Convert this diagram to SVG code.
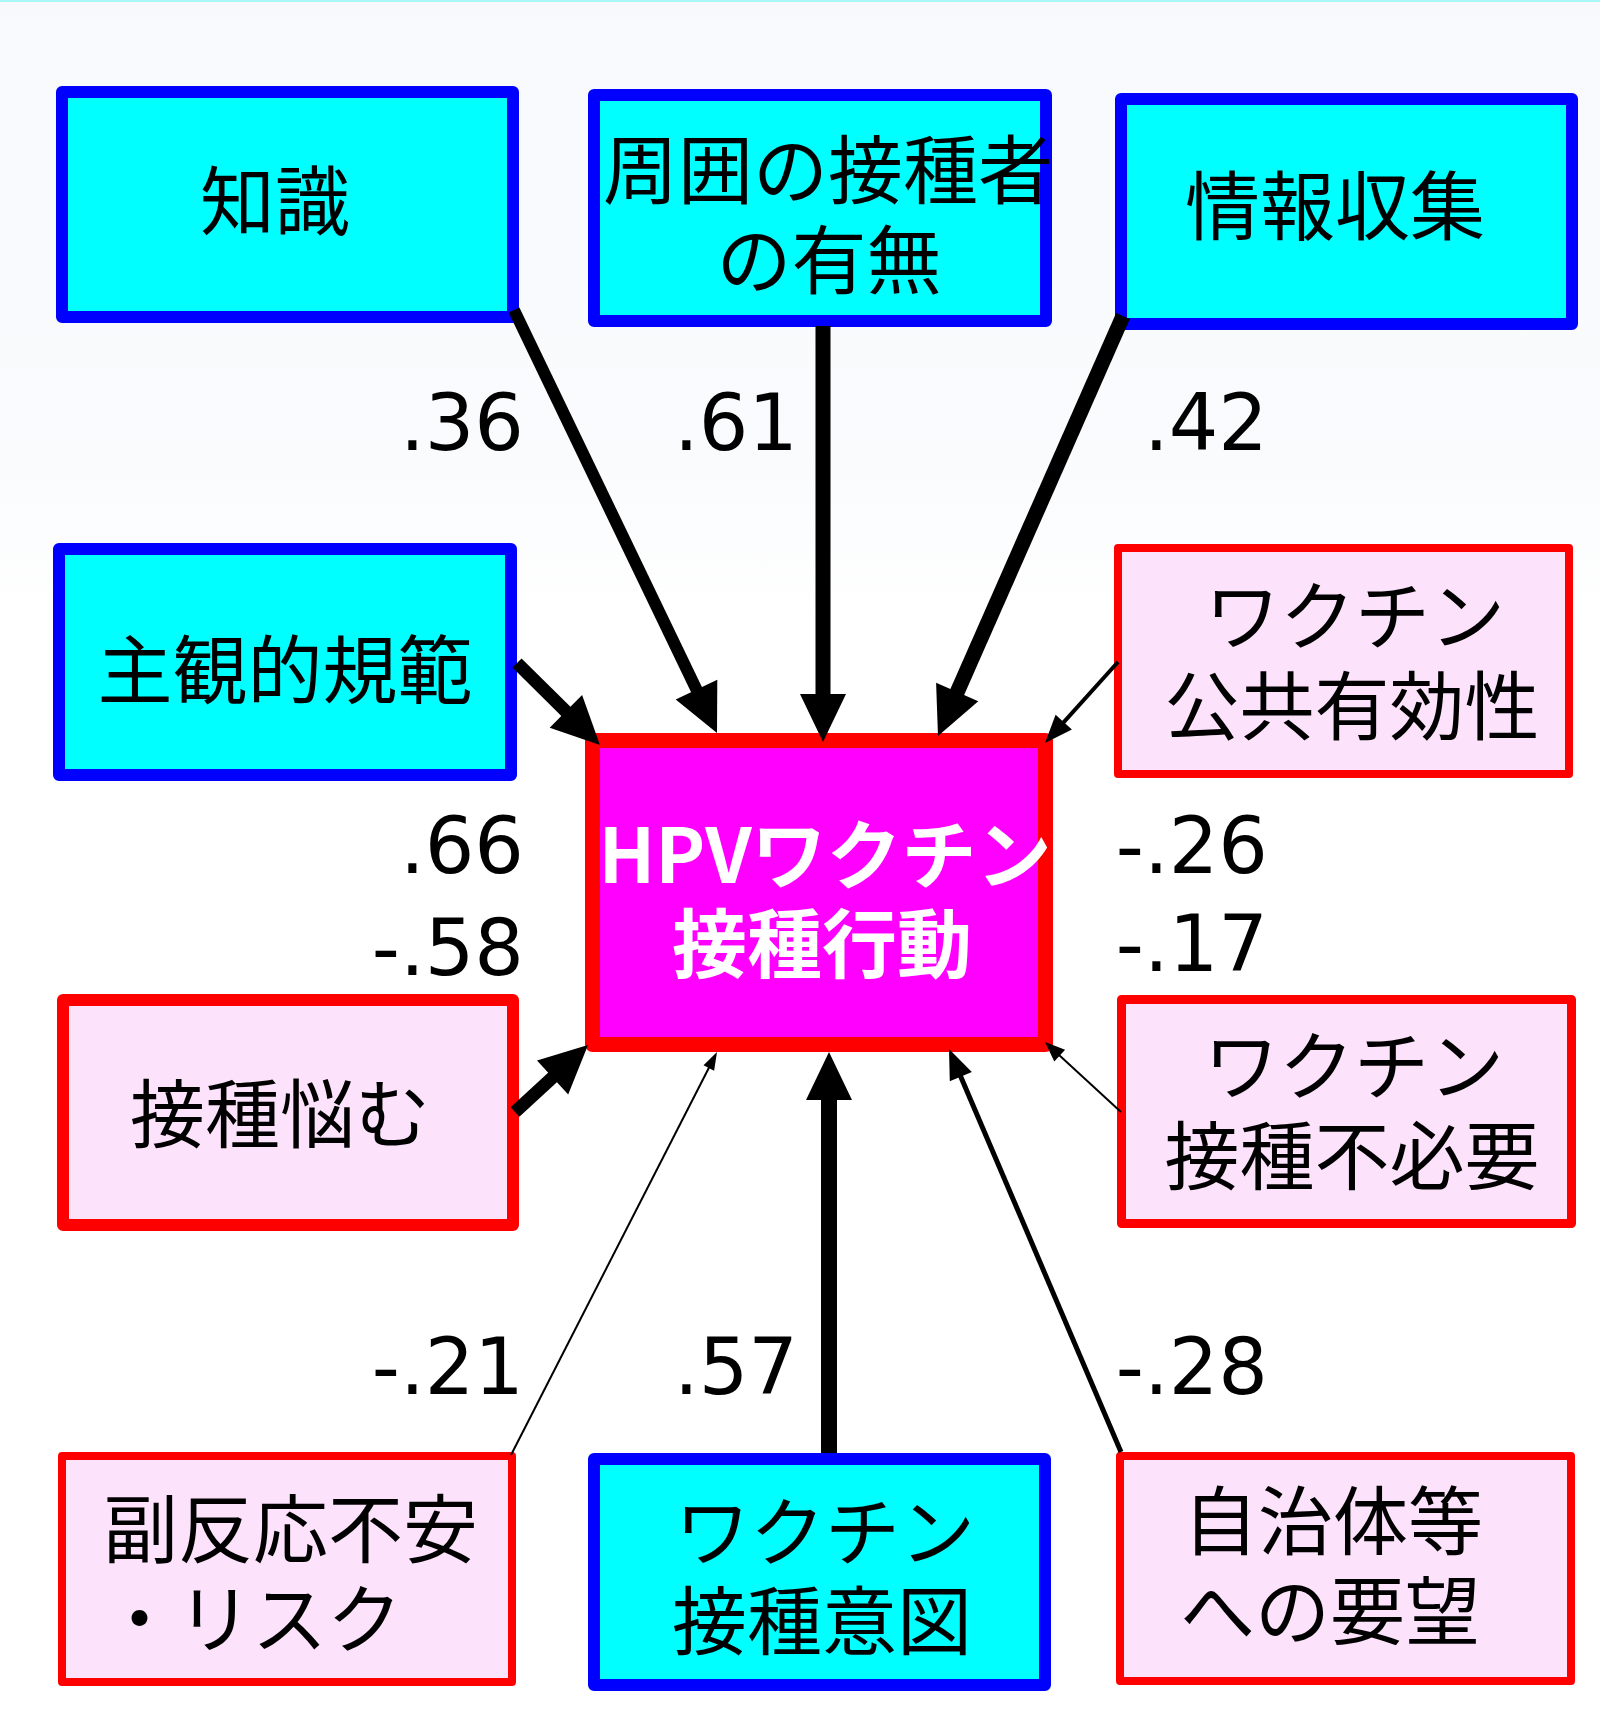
<svg xmlns="http://www.w3.org/2000/svg" width="1600" height="1710" viewBox="0 0 1600 1710">
<defs>
<linearGradient id="bgGrad" x1="0" y1="0" x2="0" y2="1">
<stop offset="0" stop-color="#f8f9fc"/>
<stop offset="0.75" stop-color="#fafbfd"/>
<stop offset="1" stop-color="#ffffff"/>
</linearGradient>
</defs>
<style>
.nb{fill:#00ffff;stroke:#0000ff;stroke-width:12;stroke-linejoin:round}
.nr{fill:#fde2fc;stroke:#ff0000;stroke-width:8;stroke-linejoin:round}
.nc{fill:#ff00ff;stroke:#ff0000;stroke-width:15;stroke-linejoin:round}
.t{font-family:"Noto Sans CJK JP","Noto Sans CJK SC",sans-serif;font-size:75px;fill:#000;text-anchor:middle}
.tw{font-family:"Noto Sans CJK JP","Noto Sans CJK SC",sans-serif;font-size:75px;font-weight:bold;fill:#fff;text-anchor:middle}
.n{font-family:"DejaVu Sans",Verdana,sans-serif;font-size:78px;fill:#000;text-anchor:end}
.c line{stroke:#000;stroke-linecap:butt}
.c polygon{fill:#000}
</style>
<rect x="0" y="0" width="1600" height="1710" fill="#ffffff"/>
<rect x="0" y="0" width="1600" height="620" fill="url(#bgGrad)"/>
<rect x="0" y="0" width="1600" height="2" fill="#a8f8f8"/>

<g id="node-chishiki">
<rect class="nb" x="62" y="92" width="451" height="225"/>
<text class="t" x="275" y="229">知識</text>
</g>
<g id="node-shuui">
<rect class="nb" x="594" y="95" width="452" height="226"/>
<text class="t"><tspan x="828" y="198">周囲の接種者</tspan><tspan x="829" y="288">の有無</tspan></text>
</g>
<g id="node-joho">
<rect class="nb" x="1121" y="99" width="451" height="225"/>
<text class="t" x="1335" y="234">情報収集</text>
</g>
<g id="node-shukan">
<rect class="nb" x="59" y="549" width="452" height="226"/>
<text class="t" x="285" y="698">主観的規範</text>
</g>
<g id="node-kokyo">
<rect class="nr" x="1118" y="548" width="451" height="226"/>
<text class="t"><tspan x="1355" y="644">ワクチン</tspan><tspan x="1352" y="734">公共有効性</tspan></text>
</g>
<g id="node-center">
<rect class="nc" x="592.5" y="740.5" width="453" height="304"/>
<text class="tw"><tspan x="825" y="883">HPVワクチン</tspan><tspan x="822" y="972">接種行動</tspan></text>
</g>
<g id="node-nayamu">
<rect class="nr" style="stroke-width:12" x="63" y="1000" width="450" height="225"/>
<text class="t" x="280" y="1142">接種悩む</text>
</g>
<g id="node-fuhitsuyo">
<rect class="nr" style="stroke-width:9" x="1121.5" y="999.5" width="450" height="224"/>
<text class="t"><tspan x="1354" y="1094">ワクチン</tspan><tspan x="1352" y="1184">接種不必要</tspan></text>
</g>
<g id="node-fukuhanno">
<rect class="nr" x="62" y="1456" width="450" height="226"/>
<text class="t" style="text-anchor:start"><tspan x="103" y="1557">副反応不安</tspan><tspan x="102" y="1647">・リスク</tspan></text>
</g>
<g id="node-ito">
<rect class="nb" x="594" y="1459" width="451" height="226"/>
<text class="t"><tspan x="825" y="1560">ワクチン</tspan><tspan x="822" y="1649">接種意図</tspan></text>
</g>
<g id="node-jichitai">
<rect class="nr" x="1120" y="1456" width="451" height="225"/>
<text class="t"><tspan x="1333" y="1549">自治体等</tspan><tspan x="1330" y="1639">への要望</tspan></text>
</g>

<g id="connectors" class="c">
<line x1="514" y1="310" x2="698.2" y2="693.2" stroke-width="12"/>
<polygon points="717,733 675.7,699.4 717.3,679.8"/>
<line x1="823" y1="326" x2="823" y2="698" stroke-width="15"/>
<polygon points="823,742 800,694 846,694"/>
<line x1="1123" y1="316" x2="955.6" y2="695.7" stroke-width="15"/>
<polygon points="938,736 936.1,682.8 978.3,701.2"/>
<line x1="1118" y1="662" x2="1061.1" y2="725.2" stroke-width="4"/>
<polygon points="1045,743 1055.6,714.8 1071.9,729.6"/>
<line x1="517" y1="663" x2="568.7" y2="714.1" stroke-width="13"/>
<polygon points="600,745 549.7,727.7 582.1,694.9"/>
<line x1="515" y1="1112" x2="555.5" y2="1074.8" stroke-width="13"/>
<polygon points="588,1045 568.2,1094.4 537,1060.6"/>
<line x1="511" y1="1455" x2="709.7" y2="1066.2" stroke-width="2"/>
<polygon points="717,1052 714.1,1070.7 703.5,1065.3"/>
<line x1="829" y1="1453" x2="829" y2="1096" stroke-width="16"/>
<polygon points="829,1052 806,1100 852,1100"/>
<line x1="1121" y1="1452" x2="959.2" y2="1072.9" stroke-width="5"/>
<polygon points="949,1049 971.8,1071.9 949.8,1081.3"/>
<line x1="1121" y1="1112" x2="1058.2" y2="1054.3" stroke-width="2"/>
<polygon points="1045,1042 1065.1,1049.7 1054.3,1061.5"/>
</g>

<g id="labels">
<text class="n" x="524" y="450">.36</text>
<text class="n" x="798" y="450">.61</text>
<text class="n" x="1268" y="450">.42</text>
<text class="n" x="524" y="873">.66</text>
<text class="n" x="1268" y="873">-.26</text>
<text class="n" x="524" y="975">-.58</text>
<text class="n" x="1268" y="971">-.17</text>
<text class="n" x="524" y="1394">-.21</text>
<text class="n" x="798" y="1394">.57</text>
<text class="n" x="1268" y="1394">-.28</text>
</g>
</svg>
